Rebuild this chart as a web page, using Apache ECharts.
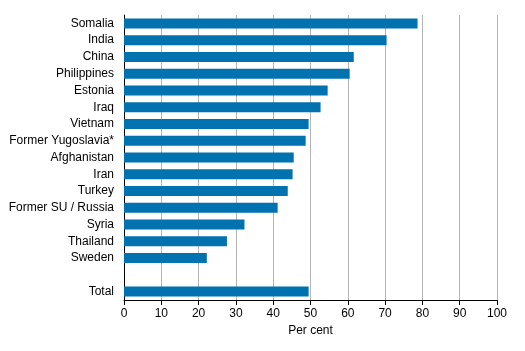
<!DOCTYPE html>
<html><head><meta charset="utf-8">
<script src="https://cdn.jsdelivr.net/npm/echarts@6/dist/echarts.min.js"></script>
<style>html,body{margin:0;padding:0;background:#fff}#c{width:525px;height:351px}</style>
</head><body><div id="c"></div>
<script>
const categories = ['Somalia','India','China','Philippines','Estonia','Iraq','Vietnam','Former Yugoslavia*','Afghanistan','Iran','Turkey','Former SU / Russia','Syria','Thailand','Sweden','','Total'];
const values = [78.7,70.4,61.6,60.5,54.6,52.7,49.5,48.7,45.5,45.2,43.9,41.2,32.3,27.6,22.2,null,49.5];
const xTicks = [0,10,20,30,40,50,60,70,80,90,100];
const chart = echarts.init(document.getElementById('c'));
chart.setOption({
  animation:false,
  textStyle:{fontFamily:'Liberation Sans, Arial, sans-serif'},
  grid:{left:124,right:28,top:15,bottom:51,containLabel:false},
  xAxis:{type:'value',min:xTicks[0],max:xTicks[xTicks.length-1],interval:10,
    name:'Per cent',nameLocation:'middle',nameGap:25,
    nameTextStyle:{color:'#000',fontSize:12,fontFamily:'Liberation Sans, Arial, sans-serif'},
    axisLine:{show:true,lineStyle:{color:'#000',width:1}},
    axisTick:{show:true,length:5,lineStyle:{color:'#000'}},
    axisLabel:{color:'#000',fontSize:12,margin:8,fontFamily:'Liberation Sans, Arial, sans-serif'},
    splitLine:{show:true,lineStyle:{color:'#b4b4b4',width:1}}},
  yAxis:{type:'category',data:categories,inverse:true,
    axisLine:{show:true,lineStyle:{color:'#000',width:1}},
    axisTick:{show:false},
    axisLabel:{color:'#000',fontSize:12,margin:10,fontFamily:'Liberation Sans, Arial, sans-serif'}},
  series:[{type:'bar',data:values,barWidth:10,itemStyle:{color:'#0072b0'},silent:true}]
});
</script></body></html>
